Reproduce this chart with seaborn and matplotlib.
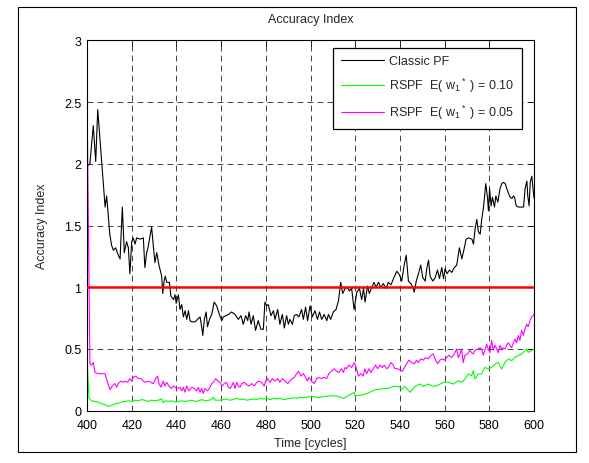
import matplotlib
matplotlib.use("Agg")
import matplotlib.pyplot as plt
from matplotlib.patches import Rectangle
import seaborn as sns
import pandas as pd

# ---------------- data ----------------
t_pf = [400.0, 401.3, 402.8, 403.9, 404.8, 408.1, 408.8, 410.2, 411.0, 411.8, 412.8, 414.0, 414.8,
        415.8, 416.7, 417.7, 418.5, 419.2, 420.0, 420.7, 421.5, 422.2, 423.7, 425.2, 425.9, 426.7,
        427.4, 428.9, 429.7, 430.4, 431.2, 432.2, 433.4, 433.9, 434.5, 435.0, 435.7, 436.9, 437.5,
        438.7, 439.4, 439.9, 440.9, 441.6, 442.4, 443.1, 443.9, 444.6, 445.4, 446.1, 446.9, 448.4,
        449.4, 450.6, 451.3, 451.8, 452.5, 453.3, 453.9, 454.8, 455.8, 456.9, 458.0, 459.2, 460.3,
        461.0, 462.2, 463.3, 464.7, 466.2, 467.7, 468.9, 469.9, 471.0, 471.9, 472.5, 473.4, 474.4,
        475.4, 476.6, 477.8, 478.9, 479.6, 480.4, 481.1, 482.3, 483.4, 484.1, 485.3, 486.3, 487.4,
        488.3, 489.3, 490.1, 490.8, 491.9, 492.7, 493.8, 494.8, 496.0, 496.8, 497.8, 498.7, 499.8,
        500.8, 502.0, 503.1, 504.0, 505.0, 506.1, 507.3, 508.0, 509.0, 510.2, 511.4, 512.5, 513.5,
        514.4, 515.5, 516.5, 517.4, 518.4, 519.5, 520.7, 521.9, 522.9, 523.7, 524.4, 525.5, 526.3,
        527.4, 528.4, 529.3, 530.4, 531.4, 532.6, 533.8, 534.8, 536.0, 537.1, 538.6, 539.8, 540.8,
        541.9, 542.8, 543.8, 544.9, 545.8, 546.4, 547.3, 548.3, 549.3, 550.2, 551.3, 552.0, 552.8,
        553.5, 554.7, 555.8, 556.8, 557.7, 558.7, 559.5, 560.2, 561.0, 562.2, 563.2, 564.0, 565.4,
        566.6, 567.7, 568.7, 569.6, 570.7, 572.2, 572.9, 573.6, 574.4, 575.1, 575.9, 576.6, 577.4,
        578.4, 579.2, 579.6, 580.1, 580.8, 581.4, 582.3, 582.9, 583.8, 584.8, 585.6, 586.3, 587.1,
        587.8, 588.6, 589.3, 590.1, 590.8, 591.3, 592.0, 593.0, 594.5, 595.3, 596.0, 596.8, 597.2,
        597.8, 598.3, 599.0, 600.0]
v_pf = [1.98, 2.00, 2.31, 2.02, 2.44, 1.65, 1.74, 1.43, 1.34, 1.30, 1.32, 1.26, 1.23,
        1.65, 1.28, 1.37, 1.32, 1.11, 1.37, 1.40, 1.35, 1.40, 1.39, 1.40, 1.16, 1.28,
        1.33, 1.49, 1.33, 1.20, 1.28, 1.18, 1.09, 0.95, 1.05, 1.09, 1.04, 1.04, 0.93,
        0.90, 0.94, 0.87, 0.94, 0.82, 0.86, 0.76, 0.81, 0.74, 0.81, 0.73, 0.72, 0.72,
        0.74, 0.76, 0.68, 0.61, 0.74, 0.80, 0.68, 0.74, 0.78, 0.88, 0.85, 0.78, 0.73,
        0.76, 0.77, 0.78, 0.80, 0.78, 0.74, 0.77, 0.70, 0.77, 0.73, 0.80, 0.70, 0.77,
        0.65, 0.73, 0.66, 0.66, 0.88, 0.85, 0.86, 0.77, 0.81, 0.74, 0.82, 0.70, 0.78,
        0.67, 0.77, 0.70, 0.74, 0.70, 0.77, 0.78, 0.76, 0.82, 0.74, 0.84, 0.73, 0.85,
        0.76, 0.81, 0.74, 0.80, 0.74, 0.78, 0.73, 0.78, 0.74, 0.80, 0.82, 0.89, 1.04,
        0.95, 0.99, 1.00, 0.97, 0.99, 0.82, 0.96, 0.99, 0.90, 0.99, 0.88, 1.01, 0.95,
        1.00, 1.04, 1.00, 1.04, 1.00, 1.03, 0.99, 1.04, 1.02, 1.07, 1.13, 1.10, 1.05,
        1.18, 1.26, 1.05, 1.03, 1.00, 0.96, 1.05, 1.11, 1.18, 1.08, 1.05, 1.15, 1.22,
        1.09, 1.05, 1.08, 1.14, 1.07, 1.16, 1.07, 1.15, 1.11, 1.14, 1.12, 1.15, 1.18,
        1.32, 1.23, 1.31, 1.39, 1.40, 1.39, 1.35, 1.47, 1.55, 1.45, 1.43, 1.55, 1.65,
        1.84, 1.72, 1.62, 1.80, 1.66, 1.73, 1.65, 1.74, 1.69, 1.80, 1.84, 1.85, 1.84,
        1.80, 1.76, 1.73, 1.72, 1.74, 1.73, 1.66, 1.65, 1.65, 1.65, 1.80, 1.86, 1.74,
        1.66, 1.85, 1.90, 1.72]

t_w10 = [400.0, 400.9, 402.1, 403.6, 405.1, 406.6, 408.0, 409.5, 411.0, 412.5, 414.0, 415.5, 417.0,
         418.5, 420.0, 421.5, 423.0, 424.5, 425.9, 427.4, 428.9, 430.4, 431.9, 433.4, 434.1, 434.9,
         436.4, 437.9, 439.4, 440.9, 442.4, 443.9, 445.4, 446.9, 448.4, 449.9, 451.4, 452.9, 454.4,
         455.9, 456.5, 457.4, 459.4, 460.9, 462.4, 463.9, 465.4, 466.9, 468.4, 469.9, 471.4, 472.9,
         474.4, 475.9, 477.4, 478.9, 480.4, 481.9, 483.4, 484.9, 486.4, 487.9, 489.4, 490.9, 492.4,
         493.9, 495.4, 496.9, 498.4, 500.5, 503.5, 506.4, 509.4, 512.4, 514.7, 516.9, 519.6, 519.9,
         522.9, 525.8, 528.8, 531.8, 534.8, 537.0, 539.3, 540.8, 542.2, 544.5, 546.7, 549.0, 550.4,
         552.7, 554.9, 557.2, 559.4, 561.6, 563.9, 566.1, 567.6, 569.1, 570.6, 572.1, 572.8, 573.6,
         575.1, 576.5, 578.0, 579.5, 581.0, 582.5, 584.0, 585.5, 587.0, 588.5, 590.0, 591.5, 592.9,
         594.4, 595.9, 596.7, 597.4, 598.9, 600.0]
v_w10 = [0.45, 0.10, 0.08, 0.075, 0.07, 0.055, 0.05, 0.035, 0.045, 0.055, 0.06, 0.07, 0.075,
         0.08, 0.075, 0.085, 0.08, 0.09, 0.085, 0.075, 0.085, 0.08, 0.085, 0.095, 0.065, 0.08,
         0.075, 0.08, 0.07, 0.075, 0.08, 0.075, 0.08, 0.085, 0.075, 0.08, 0.09, 0.08, 0.085,
         0.09, 0.11, 0.085, 0.085, 0.09, 0.095, 0.085, 0.09, 0.10, 0.09, 0.095, 0.085, 0.09,
         0.095, 0.09, 0.10, 0.095, 0.10, 0.09, 0.10, 0.095, 0.10, 0.09, 0.095, 0.10, 0.105,
         0.10, 0.11, 0.105, 0.11, 0.116, 0.108, 0.116, 0.122, 0.116, 0.100, 0.122, 0.149, 0.122,
         0.127, 0.143, 0.170, 0.176, 0.181, 0.197, 0.197, 0.176, 0.197, 0.149, 0.197, 0.216, 0.197,
         0.216, 0.197, 0.208, 0.230, 0.230, 0.216, 0.243, 0.230, 0.257, 0.297, 0.284, 0.324, 0.257,
         0.297, 0.297, 0.351, 0.338, 0.351, 0.378, 0.392, 0.338, 0.392, 0.419, 0.405, 0.432, 0.446,
         0.459, 0.486, 0.500, 0.473, 0.486, 0.50]

t_w05 = [400.0, 401.3, 402.1, 402.8, 403.6, 405.1, 406.6, 408.0, 409.2, 410.3, 411.3, 412.5, 413.3,
         414.0, 415.2, 416.3, 417.0, 418.2, 419.2, 420.0, 420.7, 421.8, 423.0, 424.2, 425.2, 426.2,
         427.4, 428.6, 429.7, 430.7, 431.6, 432.2, 433.1, 434.1, 434.9, 435.6, 436.7, 437.6, 438.6,
         439.4, 440.6, 441.6, 442.4, 443.1, 443.8, 444.6, 445.6, 446.8, 448.0, 449.1, 449.8, 450.6,
         451.3, 452.0, 452.8, 454.0, 455.0, 455.8, 456.5, 457.6, 458.5, 459.5, 460.5, 461.4, 462.5,
         463.2, 464.0, 464.7, 465.5, 466.2, 467.0, 467.7, 468.5, 469.2, 470.4, 471.4, 472.5, 473.7,
         474.9, 475.9, 477.0, 478.1, 479.3, 479.9, 480.8, 481.9, 482.9, 484.1, 485.3, 486.3, 487.4,
         488.6, 489.8, 490.8, 491.9, 492.8, 493.8, 494.6, 495.7, 496.8, 497.8, 498.6, 499.3, 500.5,
         501.7, 502.7, 503.8, 505.0, 506.2, 507.2, 508.2, 509.4, 510.6, 511.7, 512.7, 513.9, 514.7,
         515.4, 516.1, 517.2, 518.4, 519.6, 520.6, 521.4, 522.6, 523.6, 524.3, 525.1, 526.1, 527.0,
         528.1, 529.1, 530.0, 531.1, 532.1, 533.0, 534.0, 534.8, 536.0, 537.0, 537.8, 539.0, 540.0,
         541.1, 542.0, 543.0, 544.0, 545.2, 546.4, 547.5, 548.2, 549.4, 550.4, 551.5, 552.7, 553.9,
         554.9, 555.7, 556.9, 557.9, 559.0, 559.8, 560.9, 561.9, 563.1, 564.3, 565.4, 566.1, 566.9,
         567.6, 568.3, 569.1, 570.3, 571.3, 572.1, 572.8, 573.6, 574.8, 575.8, 576.5, 577.3, 578.0,
         578.8, 579.5, 580.3, 581.0, 581.8, 582.5, 583.3, 584.0, 584.8, 585.5, 586.2, 587.0, 587.7,
         588.5, 589.2, 590.0, 590.7, 591.5, 592.2, 593.0, 593.7, 594.4, 595.2, 595.9, 596.7, 597.4,
         598.2, 598.9, 600.0]
v_w05 = [2.58, 0.38, 0.37, 0.39, 0.31, 0.30, 0.30, 0.30, 0.23, 0.17, 0.20, 0.22, 0.19,
         0.22, 0.24, 0.23, 0.24, 0.23, 0.26, 0.24, 0.27, 0.28, 0.26, 0.26, 0.24, 0.23,
         0.24, 0.23, 0.22, 0.26, 0.28, 0.22, 0.19, 0.24, 0.20, 0.23, 0.20, 0.18, 0.20,
         0.19, 0.18, 0.19, 0.16, 0.19, 0.15, 0.20, 0.16, 0.19, 0.18, 0.16, 0.19, 0.15,
         0.18, 0.14, 0.18, 0.16, 0.19, 0.22, 0.23, 0.26, 0.24, 0.23, 0.20, 0.22, 0.23,
         0.19, 0.18, 0.20, 0.23, 0.18, 0.23, 0.20, 0.19, 0.22, 0.23, 0.21, 0.20, 0.22,
         0.20, 0.23, 0.24, 0.23, 0.20, 0.24, 0.26, 0.23, 0.26, 0.24, 0.26, 0.23, 0.26,
         0.24, 0.22, 0.24, 0.26, 0.27, 0.30, 0.32, 0.28, 0.30, 0.27, 0.24, 0.27, 0.24,
         0.22, 0.26, 0.27, 0.26, 0.27, 0.26, 0.30, 0.32, 0.34, 0.32, 0.31, 0.34, 0.31,
         0.35, 0.34, 0.37, 0.35, 0.39, 0.34, 0.28, 0.30, 0.28, 0.34, 0.30, 0.34, 0.31,
         0.34, 0.37, 0.34, 0.37, 0.35, 0.37, 0.34, 0.35, 0.39, 0.37, 0.34, 0.34, 0.33,
         0.32, 0.35, 0.38, 0.41, 0.39, 0.38, 0.41, 0.39, 0.42, 0.41, 0.43, 0.42, 0.45,
         0.46, 0.42, 0.38, 0.41, 0.42, 0.41, 0.43, 0.45, 0.43, 0.46, 0.50, 0.43, 0.46,
         0.50, 0.39, 0.45, 0.46, 0.49, 0.47, 0.46, 0.49, 0.50, 0.51, 0.50, 0.45, 0.49,
         0.54, 0.50, 0.47, 0.57, 0.49, 0.53, 0.50, 0.47, 0.53, 0.50, 0.51, 0.50, 0.53,
         0.55, 0.53, 0.51, 0.55, 0.58, 0.55, 0.61, 0.57, 0.65, 0.61, 0.66, 0.70, 0.68,
         0.73, 0.76, 0.78]

reference_level = 1.0
x_ticks = [400, 420, 440, 460, 480, 500, 520, 540, 560, 580, 600]
y_ticks = [0, 0.5, 1, 1.5, 2, 2.5, 3]
y_tick_labels = ["0", "0.5", "1", "1.5", "2", "2.5", "3"]
labels = ["Classic PF", "RSPF  E( w$_1$$^*$ ) = 0.10", "RSPF  E( w$_1$$^*$ ) = 0.05"]

# ---------------- style ----------------
sns.set_theme(style="white")
plt.rcParams["font.family"] = ["Liberation Sans", "DejaVu Sans"]
plt.rcParams["mathtext.fontset"] = "custom"
plt.rcParams["mathtext.rm"] = "Liberation Sans"
plt.rcParams["mathtext.it"] = "Liberation Sans:italic"
plt.rcParams["mathtext.bf"] = "Liberation Sans:bold"

fig = plt.figure(figsize=(5.89, 4.64), dpi=100)
fig.patch.set_facecolor("white")
ax = fig.add_axes([0.1477, 0.1127, 0.759, 0.798])

df_pf = pd.DataFrame({"t": t_pf, "v": v_pf})
df_10 = pd.DataFrame({"t": t_w10, "v": v_w10})
df_05 = pd.DataFrame({"t": t_w05, "v": v_w05})

sns.lineplot(data=df_pf, x="t", y="v", ax=ax, color="black", lw=0.8,
             estimator=None, sort=False, label=labels[0])
sns.lineplot(data=df_10, x="t", y="v", ax=ax, color="#00ff00", lw=0.8,
             estimator=None, sort=False, label=labels[1])
sns.lineplot(data=df_05, x="t", y="v", ax=ax, color="#ff00ff", lw=0.8,
             estimator=None, sort=False, label=labels[2])
ax.axhline(reference_level, color="#ff0000", lw=1.8, zorder=5)

ax.set_xlim(400, 600)
ax.set_ylim(0, 3)
ax.set_xticks(x_ticks)
ax.set_yticks(y_ticks)
ax.set_yticklabels(y_tick_labels)
ax.tick_params(direction="in", length=4, width=0.6, top=True, right=True,
               labelsize=9, colors="black")
ax.tick_params(axis="x", pad=6)
ax.tick_params(axis="y", pad=4)
ax.grid(True, color="#222222", linestyle=(0, (7, 5)), linewidth=0.6)
for s in ax.spines.values():
    s.set_color("black")
    s.set_linewidth(0.8)
    s.set_visible(True)

ax.set_title("Accuracy Index", fontsize=9, pad=13)
ax.set_xlabel("Time [cycles]", fontsize=9, labelpad=4)
ax.set_ylabel("Accuracy Index", fontsize=9, labelpad=12)

leg = ax.legend(loc="upper right", bbox_to_anchor=(0.973, 0.980), borderaxespad=0,
                fontsize=9, frameon=True, fancybox=False, framealpha=1,
                edgecolor="black", handlelength=3.5, handletextpad=0.4,
                labelspacing=0.7, borderpad=0.6)
leg.get_frame().set_linewidth(0.9)

fig.add_artist(Rectangle((18 / 589, (464 - 453) / 464), (576 - 18) / 589, (453 - 8) / 464,
                         transform=fig.transFigure, fill=False, edgecolor="black", lw=0.8))

fig.savefig("out.png", dpi=100, facecolor="white")
